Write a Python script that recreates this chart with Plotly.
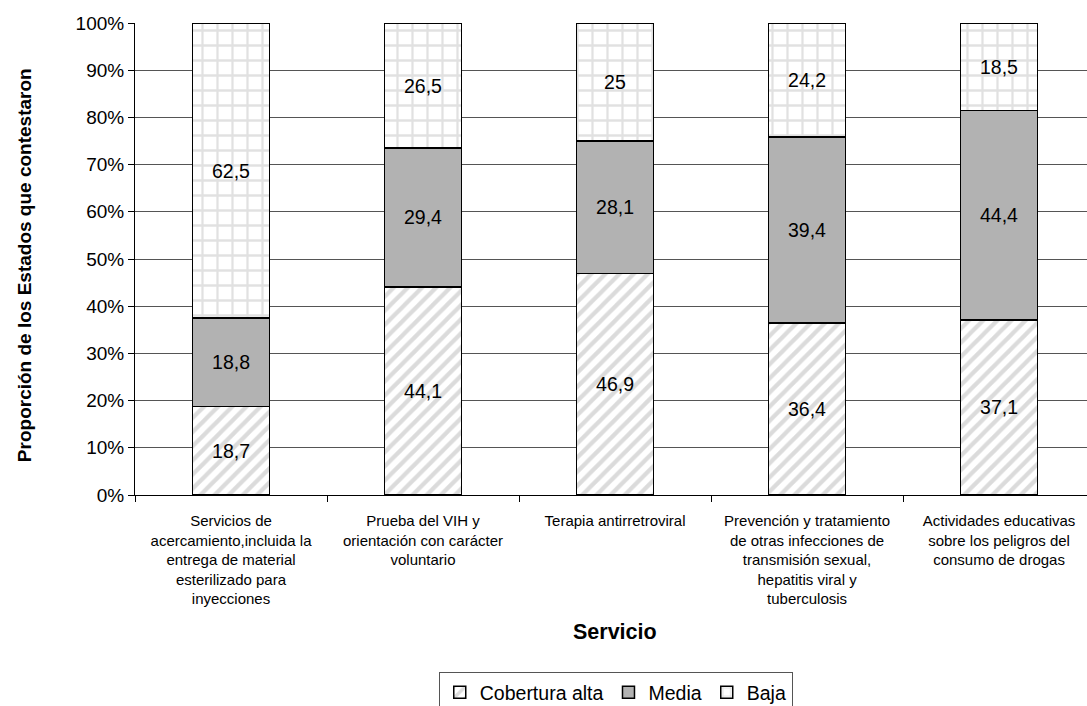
import plotly.graph_objects as go

categories = [
    "Servicios de<br>acercamiento,incluida la<br>entrega de material<br>esterilizado para<br>inyecciones",
    "Prueba del VIH y<br>orientación con carácter<br>voluntario",
    "Terapia antirretroviral",
    "Prevención y tratamiento<br>de otras infecciones de<br>transmisión sexual,<br>hepatitis viral y<br>tuberculosis",
    "Actividades educativas<br>sobre los peligros del<br>consumo de drogas",
]
alta = [18.7, 44.1, 46.9, 36.4, 37.1]
media = [18.8, 29.4, 28.1, 39.4, 44.4]
baja = [62.5, 26.5, 25, 24.2, 18.5]
y_ticks = [0, 10, 20, 30, 40, 50, 60, 70, 80, 90, 100]
y_tick_labels = ["0%", "10%", "20%", "30%", "40%", "50%", "60%", "70%", "80%", "90%", "100%"]

FONT = "Liberation Sans, Arial, sans-serif"


def lab(vals):
    return [f"{v:g}".replace(".", ",") for v in vals]


fig = go.Figure()
series = [
    ("Cobertura alta", alta, dict(color="white", pattern=dict(shape="/", fgcolor="#b8b8b8", bgcolor="white", size=10, solidity=0.42))),
    ("Media", media, dict(color="#b2b2b2")),
    ("Baja", baja, dict(color="white", pattern=dict(shape="+", fgcolor="#c4c4c4", bgcolor="white", size=15, solidity=0.28))),
]
for name, vals, mk in series:
    mk = dict(mk)
    mk["line"] = dict(color="black", width=1.5)
    fig.add_trace(go.Bar(
        name=name, x=categories, y=vals, marker=mk, width=0.4,
        text=lab(vals), textposition="inside", insidetextanchor="middle",
        textangle=0, constraintext="none",
        textfont=dict(family=FONT, size=19.5, color="black"),
        hoverinfo="skip",
    ))

fig.update_layout(
    barmode="stack",
    width=1087, height=706,
    margin=dict(l=135, r=0, t=23, b=211, autoexpand=False),
    paper_bgcolor="white", plot_bgcolor="white",
    font=dict(family=FONT, color="black"),
    legend=dict(
        orientation="h", x=0.505, xanchor="center", y=-0.375, yanchor="top",
        bordercolor="#555555", borderwidth=1, font=dict(size=19.5, family=FONT),
        traceorder="normal", itemwidth=30, tracegroupgap=0,
    ),
    xaxis=dict(
        range=[-0.5, 4.458], showline=True, linecolor="black", linewidth=1,
        ticks="outside", tickson="boundaries", ticklen=6, tickcolor="black",
        tickfont=dict(size=15, family=FONT), showgrid=False,
        ticklabelstandoff=12, automargin=False,
    ),
    yaxis=dict(
        range=[0, 100], tickvals=y_ticks, ticktext=y_tick_labels,
        showline=True, linecolor="black", linewidth=1,
        ticks="outside", ticklen=6, tickcolor="black",
        tickfont=dict(size=19, family=FONT), automargin=False,
        showgrid=True, gridcolor="#555555", gridwidth=1, zeroline=False,
    ),
    annotations=[
        dict(text="<b>Proporción de los Estados que contestaron</b>", xref="paper", yref="paper",
             x=-0.1166, y=0.487, xanchor="center", yanchor="middle", textangle=-90,
             showarrow=False, font=dict(size=19, family=FONT)),
        dict(text="<b>Servicio</b>", xref="paper", yref="paper",
             x=0.5037, y=-0.2903, xanchor="center", yanchor="middle",
             showarrow=False, font=dict(size=21.5, family=FONT)),
    ],
)

fig.write_html("out.html")
